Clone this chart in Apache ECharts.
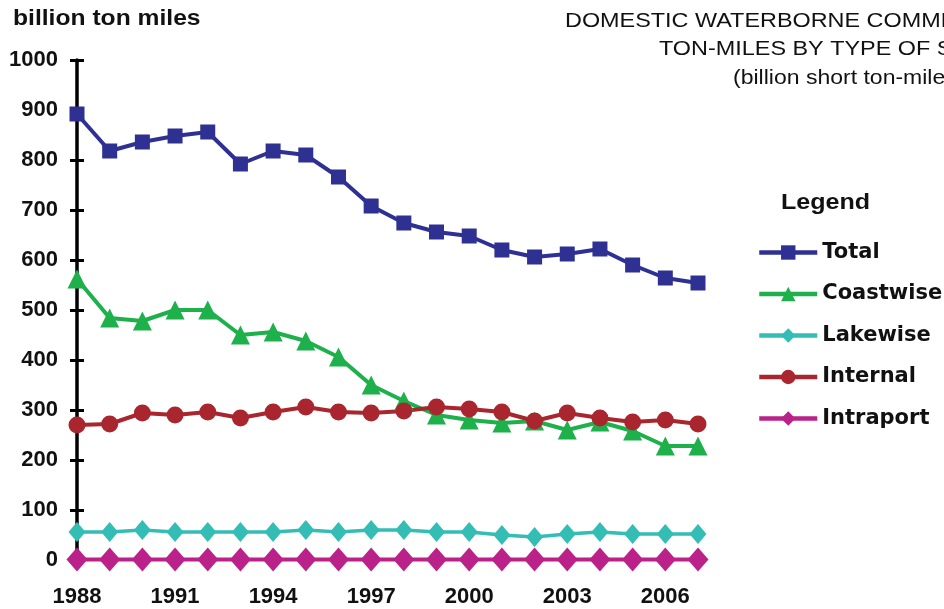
<!DOCTYPE html>
<html>
<head>
<meta charset="utf-8">
<script src="https://cdn.jsdelivr.net/npm/echarts@6/dist/echarts.min.js"></script>
<style>
html,body{margin:0;padding:0;background:#fff;}
#chart{width:944px;height:609px;}
</style>
</head>
<body>
<div id="chart"></div>
<script>
// ---- data ----
const years = ['1988','1989','1990','1991','1992','1993','1994','1995','1996','1997','1998','1999','2000','2001','2002','2003','2004','2005','2006','2007'];
const total     = [892, 818, 836, 848, 856, 792, 818, 810, 766, 708, 674, 656, 648, 620, 606, 612, 622, 590, 564, 554];
const coastwise = [562, 484, 478, 500, 500, 450, 456, 438, 406, 350, 318, 290, 280, 274, 278, 260, 276, 258, 228, 228];
const lakewise  = [56, 56, 60, 56, 56, 56, 56, 60, 56, 60, 60, 56, 56, 50, 46, 52, 56, 52, 52, 52];
const internal  = [270, 272, 294, 290, 296, 284, 296, 306, 296, 294, 298, 306, 302, 296, 278, 294, 284, 276, 280, 272];
const intraport = [1, 1, 1, 1, 1, 1, 1, 1, 1, 1, 1, 1, 1, 1, 1, 1, 1, 1, 1, 1];
const seriesNames = ['Total', 'Coastwise', 'Lakewise', 'Internal', 'Intraport'];
const yMin = 0, yMax = 1000, yStep = 100;
const yAxisTitle = 'billion ton miles';
const titleLines = ['DOMESTIC WATERBORNE COMMERCE', 'TON-MILES BY TYPE OF SERVICE', '(billion short ton-miles)'];
const legendTitle = 'Legend';

const chart = echarts.init(document.getElementById('chart'), null, {renderer: 'canvas'});
const axisFont = {fontFamily: '"Liberation Sans", Arial, sans-serif', fontWeight: 'bold', fontSize: 22, color: '#111'};

function lineSeries(name, data, color, symbol, size, width) {
  return {
    name: name, type: 'line', data: data,
    symbol: symbol, symbolSize: size, showSymbol: true, showAllSymbol: true,
    lineStyle: {color: color, width: width},
    itemStyle: {color: color},
    emphasis: {disabled: true},
    silent: true
  };
}

const option = {
  animation: false,
  backgroundColor: '#fff',
  grid: {left: 77, right: 246, top: 60, bottom: 49, containLabel: false},
  xAxis: {
    type: 'category', data: years, boundaryGap: false,
    axisLine: {show: false}, axisTick: {show: false}, splitLine: {show: false},
    axisLabel: Object.assign({interval: 2, margin: 26}, axisFont)
  },
  yAxis: [{
    type: 'value', min: yMin, max: yMax, interval: yStep, position: 'left',
    axisLine: {show: true, lineStyle: {color: '#000', width: 3.5}},
    axisTick: {show: true, inside: false, length: 7, lineStyle: {color: '#000', width: 3}},
    splitLine: {show: false},
    axisLabel: Object.assign({margin: 19, formatter: function (v) { return String(v); }}, axisFont)
  }, {
    type: 'value', min: yMin, max: yMax, interval: yStep, position: 'left', offset: 0,
    axisLine: {show: false},
    axisTick: {show: true, inside: true, length: 7, lineStyle: {color: '#000', width: 3}},
    splitLine: {show: false},
    axisLabel: {show: false}
  }],
  legend: {
    data: seriesNames, orient: 'vertical', left: 752, top: 237,
    itemWidth: 58, itemHeight: 18, itemGap: 20.5,
    selectedMode: false,
    lineStyle: {width: 4.5},
    textStyle: {fontFamily: '"DejaVu Sans", sans-serif', fontWeight: 'bold', fontSize: 21, color: '#111'}
  },
  graphic: [
    {type: 'text', x: 13, y: 18.5, scaleX: 1.12,
     style: {text: yAxisTitle, font: 'bold 22px "Liberation Sans", Arial, sans-serif', fill: '#111', verticalAlign: 'middle'}},
    {type: 'text', x: 565, y: 21.5, scaleX: 1.2,
     style: {text: titleLines[0], font: '19.5px "Liberation Sans", Arial, sans-serif', fill: '#111', verticalAlign: 'middle'}},
    {type: 'text', x: 659, y: 50, scaleX: 1.2,
     style: {text: titleLines[1], font: '19.5px "Liberation Sans", Arial, sans-serif', fill: '#111', verticalAlign: 'middle'}},
    {type: 'text', x: 733, y: 79, scaleX: 1.18,
     style: {text: titleLines[2], font: '19.5px "Liberation Sans", Arial, sans-serif', fill: '#111', verticalAlign: 'middle'}},
    {type: 'text', x: 781, y: 203, scaleX: 1.14,
     style: {text: legendTitle, font: 'bold 22px "Liberation Sans", Arial, sans-serif', fill: '#111', verticalAlign: 'middle'}}
  ],
  series: [
    lineSeries('Total', total, '#2E3192', 'rect', 15, 4),
    lineSeries('Coastwise', coastwise, '#1DB04B', 'triangle', 19, 4),
    lineSeries('Lakewise', lakewise, '#33BDB5', 'diamond', [17, 20], 3.5),
    lineSeries('Internal', internal, '#A9262F', 'circle', 17, 4),
    lineSeries('Intraport', intraport, '#BB2289', 'diamond', [21, 24], 4)
  ]
};
chart.setOption(option);
</script>
</body>
</html>
